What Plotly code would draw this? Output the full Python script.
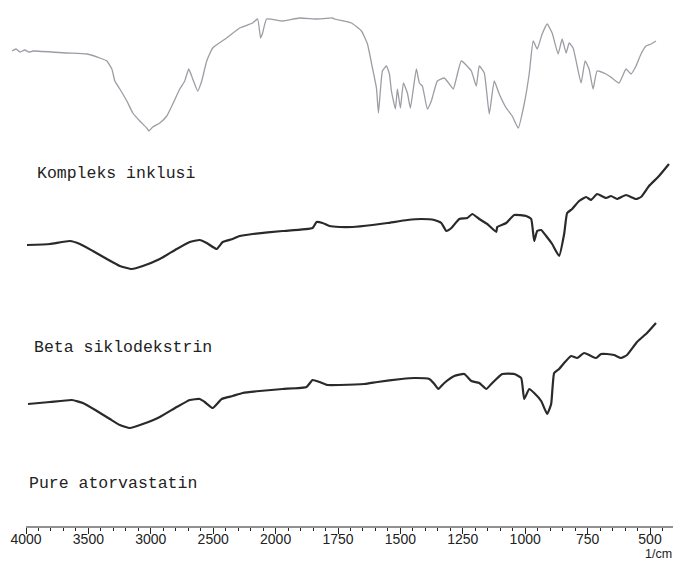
import plotly.graph_objects as go

# ---------------- data (wavenumber in 1/cm, transmittance in arbitrary units) ----------------
atorva_wn = [4112, 4080, 4048, 4010, 3976, 3944, 3672, 3512, 3408, 3352, 3312, 3288, 3248, 3192, 3144,
             3088, 3032, 3016, 2984, 2928, 2872, 2824, 2768, 2728, 2696, 2664, 2624, 2592, 2552, 2504,
             2392, 2288, 2184, 2144, 2120, 2104, 2072, 1972, 1904, 1836, 1772, 1764, 1696, 1656, 1632,
             1612, 1596, 1588, 1572, 1556, 1544, 1536, 1520, 1512, 1500, 1488, 1472, 1460, 1436, 1424,
             1412, 1392, 1376, 1352, 1324, 1304, 1288, 1256, 1216, 1196, 1184, 1164, 1144, 1124, 1104,
             1076, 1052, 1028, 1004, 984, 968, 952, 932, 912, 892, 868, 852, 836, 824, 808, 776, 760,
             744, 728, 712, 676, 652, 624, 596, 576, 556, 536, 516, 496, 476]
atorva_t = [476, 478, 475, 477, 475, 476, 474, 473, 469, 466, 458, 446, 438, 426, 414,
            406, 399, 396, 400, 404, 411, 423, 438, 446, 458, 448, 436, 446, 466, 479,
            489, 499, 504, 508, 489, 494, 508, 506, 509, 508, 509, 508, 504, 496, 483,
            459, 439, 414, 456, 461, 453, 436, 418, 438, 419, 444, 434, 419, 458, 444,
            441, 418, 426, 446, 449, 443, 438, 466, 456, 441, 461, 454, 413, 446, 433,
            419, 411, 399, 423, 453, 486, 478, 493, 503, 494, 473, 488, 474, 484, 479, 444, 466,
            458, 438, 456, 453, 449, 444, 458, 453, 461, 473, 481, 483, 486]

kompleks_wn = [3992, 3808, 3648, 3568, 3464, 3352, 3248, 3152, 3064, 2928, 2792, 2688, 2608, 2552,
               2472, 2424, 2344, 2288, 2184, 1972, 1852, 1836, 1812, 1784, 1744, 1692, 1612, 1552,
               1472, 1416, 1364, 1336, 1316, 1296, 1264, 1232, 1212, 1184, 1152, 1116, 1112, 1076,
               1044, 996, 976, 964, 952, 936, 916, 892, 864, 844, 832, 812, 784, 756, 736, 712, 676,
               656, 632, 596, 556, 536, 504, 464, 424]
kompleks_t = [282, 283, 286, 283, 276, 268, 261, 258, 261, 268, 278, 285, 287, 284,
              278, 285, 288, 291, 293, 296, 299, 305, 304, 301, 300, 300, 302, 304,
              307, 308, 307, 304, 296, 299, 308, 309, 313, 308, 303, 295, 300, 304,
              312, 311, 308, 286, 296, 297, 291, 283, 271, 293, 314, 318, 326, 330, 327, 333, 329,
              331, 328, 332, 328, 330, 341, 351, 363]

beta_wn = [3984, 3808, 3632, 3544, 3432, 3328, 3248, 3168, 3064, 2928, 2792, 2688, 2608, 2568,
           2504, 2432, 2344, 2264, 2128, 1972, 1876, 1852, 1824, 1792, 1744, 1644, 1592, 1496,
           1444, 1384, 1364, 1348, 1324, 1284, 1244, 1216, 1184, 1156, 1136, 1092, 1044, 1016,
           1004, 984, 964, 936, 912, 896, 884, 864, 844, 816, 792, 764, 736, 716, 696, 672, 644,
           616, 592, 552, 512, 476]
beta_t = [123, 125, 127, 124, 116, 108, 102, 99, 103, 110, 120, 127, 128, 125,
          119, 128, 131, 134, 136, 138, 140, 147, 145, 142, 142, 143, 145, 148,
          149, 148, 143, 138, 144, 151, 153, 146, 144, 138, 143, 153, 153, 149,
          128, 138, 134, 126, 113, 123, 154, 158, 164, 171, 169, 174, 171, 169, 173, 173, 172,
          169, 172, 185, 194, 204]

tick_labels = ["4000", "3500", "3000", "2500", "2000", "1750", "1500", "1250", "1000", "750", "500"]
sample_labels = ["Kompleks inklusi", "Beta siklodekstrin", "Pure atorvastatin"]
axis_unit = "1/cm"


# ---------------- split-scale wavenumber axis (scale doubles below 2000 1/cm) ----------------
def to_u(w):
    w = float(w)
    if w >= 2000:
        return (4000.0 - w) / 500.0
    return 4.0 + (2000.0 - w) / 250.0


tick_u = [to_u(v) for v in tick_labels]
minor_u = [to_u(w) for w in range(3900, 2000, -100)] + [to_u(w) for w in range(1950, 399, -50)]
minor_u = [u for u in minor_u if abs(u - round(u)) > 1e-6]

W, H = 675, 561
PLOT_W = 673          # plot area width in px
PLOT_H = 527          # plot area height in px (axis at y=527)
PX_PER_U = 62.4

fig = go.Figure()
fig.add_trace(go.Scatter(x=[to_u(w) for w in atorva_wn], y=atorva_t, mode="lines",
                         line=dict(color="#9c9ca4", width=1.3, shape="spline", smoothing=0.4),
                         hoverinfo="skip"))
fig.add_trace(go.Scatter(x=[to_u(w) for w in kompleks_wn], y=kompleks_t, mode="lines",
                         line=dict(color="#2a2a2a", width=2.2, shape="spline", smoothing=0.4),
                         hoverinfo="skip"))
fig.add_trace(go.Scatter(x=[to_u(w) for w in beta_wn], y=beta_t, mode="lines",
                         line=dict(color="#2a2a2a", width=2.2, shape="spline", smoothing=0.4),
                         hoverinfo="skip"))

u_left = -26 / PX_PER_U
u_right = u_left + PLOT_W / PX_PER_U

fig.update_xaxes(range=[u_left, u_right], showgrid=False, zeroline=False, showline=False,
                 tickmode="array", tickvals=tick_u, ticktext=tick_labels,
                 ticks="outside", ticklen=6, tickwidth=1, tickcolor="#222",
                 ticklabelstandoff=-7,
                 tickfont=dict(family="Liberation Sans, Arial", size=14, color="#222"),
                 minor=dict(tickmode="array", tickvals=minor_u, ticks="outside", ticklen=3,
                            tickwidth=1, tickcolor="#222"))
fig.update_yaxes(range=[0, PLOT_H], visible=False, showgrid=False, zeroline=False)

# axis line starting at 4000 1/cm
fig.add_shape(type="line", xref="x", yref="paper", x0=0, x1=u_right, y0=0, y1=0,
              line=dict(color="#222", width=1.2))

label_pos = [(35, 173), (32, 347), (27, 483)]   # page px
for txt, (px, py) in zip(sample_labels, label_pos):
    fig.add_annotation(text=txt, xref="paper", yref="paper",
                       x=px / PLOT_W, y=(527 - py) / PLOT_H,
                       xanchor="left", yanchor="middle", showarrow=False,
                       font=dict(family="Liberation Mono, Courier New, monospace", size=16.5, color="#222"))

fig.add_annotation(text=axis_unit, xref="paper", yref="paper",
                   x=673 / PLOT_W, y=-(554 - 527) / PLOT_H,
                   xanchor="right", yanchor="middle", showarrow=False, borderpad=0,
                   font=dict(family="Liberation Sans, Arial", size=12.5, color="#222"))

fig.update_layout(width=W, height=H, margin=dict(l=0, r=W - PLOT_W, t=0, b=H - PLOT_H),
                  paper_bgcolor="white", plot_bgcolor="white", showlegend=False)

fig.write_html("out.html", config={"displayModeBar": False, "staticPlot": True},
               post_script="document.body.style.margin='0';"
                           "document.documentElement.style.overflow='hidden';")
